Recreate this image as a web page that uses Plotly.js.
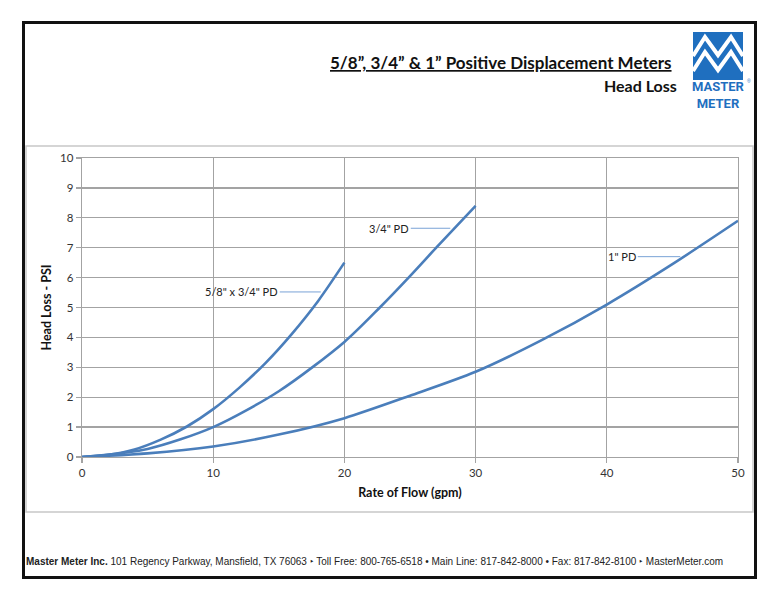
<!DOCTYPE html>
<html>
<head>
<meta charset="utf-8">
<script src="https://cdn.plot.ly/plotly-3.0.1.min.js"></script>
<style>html,body{margin:0;padding:0;background:#fff;}#chart{width:780px;height:600px;}</style>
</head>
<body>
<div id="chart"></div>
<script>
// ---- data ----
const flow58 = [0, 2, 4, 6, 8, 10, 12, 14, 16, 18, 20];
const loss58 = [0, 0.07, 0.25, 0.58, 1.02, 1.6, 2.32, 3.15, 4.12, 5.22, 6.5];
const flow34 = [0, 5, 10, 15, 20, 22.7, 25, 27, 30];
const loss34 = [0, 0.27, 1.0, 2.2, 3.85, 5.0, 6.05, 7.0, 8.4];
const flow1 = [0, 5, 10, 15, 20, 25, 30, 35, 40, 45, 50];
const loss1 = [0, 0.12, 0.35, 0.75, 1.3, 2.05, 2.85, 3.9, 5.1, 6.45, 7.9];
const seriesNames = ['5/8" x 3/4" PD', '3/4" PD', '1" PD'];
const labelAt = [[18.2, 5.52], [28.07, 7.65], [45.6, 6.7]];
const xTicks = [0, 10, 20, 30, 40, 50];
const yTicks = [0, 1, 2, 3, 4, 5, 6, 7, 8, 9, 10];

// ---- layout geometry ----
const W = 780, H = 600;
const L = 82, R = 738, T = 158, B = 457;
const px = x => (x - L) / (R - L);
const py = y => (B - y) / (B - T);

const lineColor = '#4a7ebb';
const gridColor = '#a3a3a3';
const font = 'Lato, "Open Sans", sans-serif';

const traces = [[flow58, loss58], [flow34, loss34], [flow1, loss1]].map((d, i) => ({
  x: d[0], y: d[1], name: seriesNames[i], type: 'scatter', mode: 'lines',
  line: {color: lineColor, width: 2.6, shape: 'spline', smoothing: 0.8},
  hoverinfo: 'x+y'
}));

const shapes = [];
function rectPx(x0, y0, x1, y1, opts) {
  shapes.push(Object.assign({type: 'rect', xref: 'paper', yref: 'paper',
    x0: px(x0), x1: px(x1), y0: py(y0), y1: py(y1), layer: 'below'}, opts));
}
function pathPx(pts, opts) {
  const d = pts.map((p, i) => (i ? 'L' : 'M') + px(p[0]) + ',' + py(p[1])).join(' ');
  shapes.push(Object.assign({type: 'path', xref: 'paper', yref: 'paper', path: d}, opts));
}
// outer frame
rectPx(23.5, 22.5, 755.5, 577.5, {line: {color: '#111', width: 3}, layer: 'above'});
// chart area box
rectPx(26, 146, 753, 512, {line: {color: '#c8c8c8', width: 1.5}});
// logo
rectPx(693, 32, 743, 80, {fillcolor: '#1f6fbf', line: {width: 0}, layer: 'above'});
pathPx([[693, 56], [705, 37], [718, 55], [731, 37], [743, 56]], {line: {color: '#fff', width: 4}, layer: 'above'});
pathPx([[693, 71], [705, 52], [718, 70], [731, 52], [743, 71]], {line: {color: '#fff', width: 4}, layer: 'above'});

const annotations = [];
// series labels with leader lines
const labelOffsets = [-79, -61, -58];
labelAt.forEach((p, i) => annotations.push({
  x: p[0], y: p[1], xref: 'x', yref: 'y', text: seriesNames[i],
  showarrow: true, arrowhead: 0, arrowwidth: 1, arrowcolor: '#7aa3d6',
  ax: labelOffsets[i], ay: 0, standoff: 0,
  font: {family: font, size: 11, color: '#222'}
}));
// titles
annotations.push({xref: 'paper', yref: 'paper', x: px(674), y: py(62), xanchor: 'right', yanchor: 'middle',
  text: '<b><u>5/8”, 3/4” &amp; 1” Positive Displacement Meters</u></b>', showarrow: false,
  font: {family: font, size: 17, color: '#111'}});
annotations.push({xref: 'paper', yref: 'paper', x: px(679), y: py(86), xanchor: 'right', yanchor: 'middle',
  text: '<b>Head Loss</b>', showarrow: false,
  font: {family: font, size: 16, color: '#111'}});
// logo text
const logoFont = 'Roboto, "Liberation Sans", sans-serif';
annotations.push({xref: 'paper', yref: 'paper', x: px(718), y: py(95), xanchor: 'center', yanchor: 'middle',
  text: '<b>MASTER<br>METER</b>', showarrow: false, borderpad: 0,
  font: {family: logoFont, size: 13, color: '#1f6fbf', lineheight: 0.95}});
annotations.push({xref: 'paper', yref: 'paper', x: px(749), y: py(81), xanchor: 'center', yanchor: 'middle',
  text: '®', showarrow: false, borderpad: 0, font: {family: 'Liberation Sans', size: 5, color: '#1f6fbf'}});
// footer
annotations.push({xref: 'paper', yref: 'paper', x: px(24), y: py(561), xanchor: 'left', yanchor: 'middle',
  text: '<b>Master Meter Inc.</b> 101 Regency Parkway, Mansfield, TX 76063 ‣ Toll Free: 800-765-6518 • Main Line: 817-842-8000 • Fax: 817-842-8100 ‣ MasterMeter.com',
  showarrow: false, font: {family: '"Liberation Sans", Arial, sans-serif', size: 10, color: '#222'}});

const axisCommon = {
  showgrid: true, gridcolor: gridColor, gridwidth: 1.3,
  showline: true, linecolor: gridColor, linewidth: 1.3, mirror: true,
  ticks: 'outside', ticklen: 5, tickcolor: gridColor, tickwidth: 1.3,
  zeroline: false, tickfont: {family: font, size: 11.5, color: '#333'}, fixedrange: true
};

const layout = {
  width: W, height: H,
  margin: {l: L, r: W - R, t: T, b: H - B, pad: 0},
  paper_bgcolor: '#fff', plot_bgcolor: '#fff',
  showlegend: false,
  xaxis: Object.assign({}, axisCommon, {range: [0, 50], tickvals: xTicks,
    title: {text: '<b>Rate of Flow (gpm)</b>', font: {family: font, size: 12.5, color: '#111'}, standoff: 10}}),
  yaxis: Object.assign({}, axisCommon, {range: [0, 10], tickvals: yTicks,
    title: {text: '<b>Head Loss - PSI</b>', font: {family: font, size: 12.5, color: '#111'}, standoff: 5}}),
  shapes: shapes,
  annotations: annotations
};

Plotly.newPlot('chart', traces, layout, {displayModeBar: false, staticPlot: true});
</script>
</body>
</html>
